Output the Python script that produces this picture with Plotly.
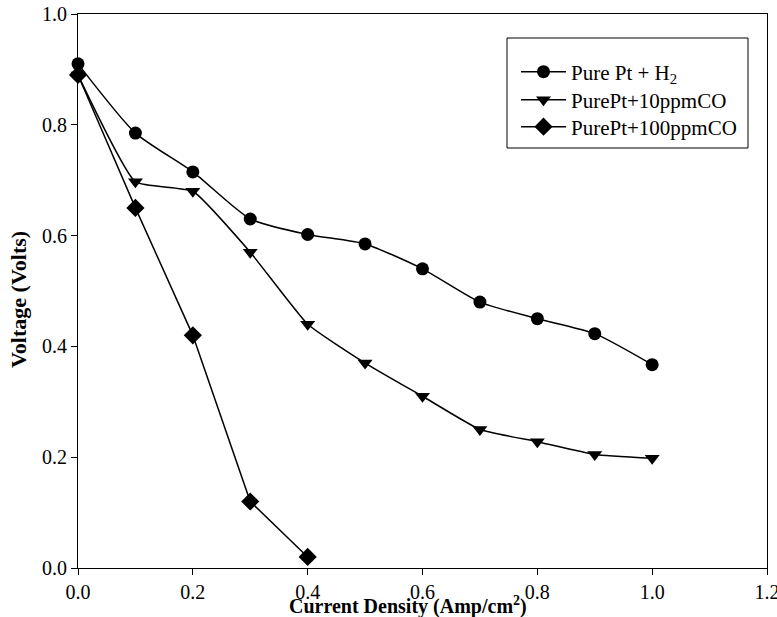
import plotly.graph_objects as go

current = [0.0, 0.1, 0.2, 0.3, 0.4, 0.5, 0.6, 0.7, 0.8, 0.9, 1.0]
pure_h2 = [0.91, 0.785, 0.715, 0.63, 0.602, 0.585, 0.54, 0.48, 0.45, 0.423, 0.367]
co10 = [0.89, 0.697, 0.68, 0.57, 0.44, 0.37, 0.31, 0.25, 0.228, 0.205, 0.198]
current100 = [0.0, 0.1, 0.2, 0.3, 0.4]
co100 = [0.89, 0.65, 0.42, 0.12, 0.02]

names = ["Pure Pt + H<sub>2</sub>", "PurePt+10ppmCO", "PurePt+100ppmCO"]
xticks = [0.0, 0.2, 0.4, 0.6, 0.8, 1.0, 1.2]
yticks = [0.0, 0.2, 0.4, 0.6, 0.8, 1.0]

font_family = "Liberation Serif, Times New Roman, serif"

# plot area in page pixels (body margin removed by post_script)
L, R, T, B = 78, 10, 14, 49
pw, ph = 777 - L - R, 617 - T - B

def fx(p):  # page pixel -> paper x
    return (p - L) / pw

def fy(p):  # page pixel -> paper y
    return (617 - B - p) / ph

fig = go.Figure()
fig.add_trace(go.Scatter(x=current, y=pure_h2, name=names[0], mode="lines+markers",
                         line=dict(color="black", width=1.5, shape="spline", smoothing=0.6),
                         marker=dict(symbol="circle", size=13, color="black"),
                         legend="legend", showlegend=True))
fig.add_trace(go.Scatter(x=current, y=co10, name=names[1], mode="lines+markers",
                         line=dict(color="black", width=1.5, shape="spline", smoothing=0.4),
                         marker=dict(symbol="triangle-down", size=13, color="black"),
                         legend="legend2", showlegend=True))
fig.add_trace(go.Scatter(x=current100, y=co100, name=names[2], mode="lines+markers",
                         line=dict(color="black", width=1.5),
                         marker=dict(symbol="diamond", size=14, color="black"),
                         legend="legend3", showlegend=True))

# legend frame
fig.add_shape(type="rect", xref="paper", yref="paper",
              x0=fx(507), x1=fx(748), y0=fy(148), y1=fy(38),
              line=dict(color="black", width=1), fillcolor="white", layer="below")

def leg(ycenter):
    return dict(x=fx(516), y=fy(ycenter), xanchor="left", yanchor="middle",
                borderwidth=0, bgcolor="rgba(0,0,0,0)",
                font=dict(family=font_family, size=21), itemwidth=45)

fig.update_layout(
    width=777, height=617,
    showlegend=True,
    margin=dict(l=L, r=R, t=T, b=B),
    paper_bgcolor="white", plot_bgcolor="white",
    font=dict(family=font_family, size=20, color="black"),
    legend=leg(72), legend2=leg(100), legend3=leg(127),
    xaxis=dict(range=[0, 1.2], tickvals=xticks, tickformat=".1f",
               ticks="outside", ticklen=6, tickcolor="black",
               ticklabeloverflow="allow",
               showline=True, linecolor="black", linewidth=1, mirror=True,
               showgrid=False, zeroline=False, automargin=False),
    yaxis=dict(range=[0, 1.0], tickvals=yticks, tickformat=".1f",
               ticks="outside", ticklen=6, tickcolor="black",
               ticklabeloverflow="allow",
               showline=True, linecolor="black", linewidth=1, mirror=True,
               showgrid=False, zeroline=False, automargin=False),
    annotations=[
        dict(text="<b>Current Density (Amp/cm<sup>2</sup>)</b>", xref="paper", yref="paper",
             x=fx(408), y=fy(605), xanchor="center", yanchor="middle", showarrow=False,
             font=dict(size=20, family=font_family)),
        dict(text="<b>Voltage (Volts)</b>", xref="paper", yref="paper",
             x=fx(18), y=fy(300), xanchor="center", yanchor="middle", showarrow=False,
             textangle=-90, font=dict(size=22, family=font_family)),
    ],
)
fig.update_traces(cliponaxis=False)

fig.write_html("out.html",
               config={"displayModeBar": False},
               post_script="document.body.style.margin='0px';document.body.style.overflow='hidden';")
